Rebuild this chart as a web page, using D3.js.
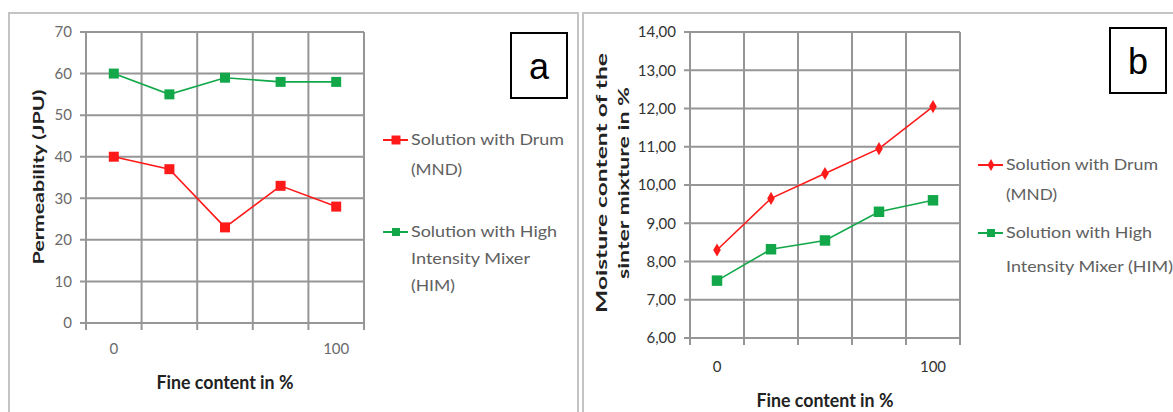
<!DOCTYPE html>
<html>
<head>
<meta charset="utf-8">
<script src="https://cdn.jsdelivr.net/npm/d3@7"></script>
<style>
  body { margin: 0; background: #fff; }
  svg { display: block; font-family: Lato, "Open Sans", sans-serif; }
</style>
</head>
<body>
<svg id="chart" width="1173" height="412"></svg>
<script>
// categories (fine content in %), only first and last are labelled
var fineContent = [0, 25, 50, 75, 100];
var xTickLabels = ["0", "", "", "", "100"];

// panel a : permeability (JPU)
var permDrum = [40, 37, 23, 33, 28];
var permHim = [60, 55, 59, 58, 58];
var permTicks = [0, 10, 20, 30, 40, 50, 60, 70];

// panel b : moisture content in %
var moistDrum = [8.3, 9.65, 10.3, 10.95, 12.05];
var moistHim = [7.5, 8.32, 8.55, 9.3, 9.6];
var moistTicks = [6, 7, 8, 9, 10, 11, 12, 13, 14];

var red = "#ff1a1a", green = "#12a84a";
var svg = d3.select("#chart");
var deLocale = d3.formatLocale({decimal: ",", thousands: ".", grouping: [3], currency: ["", " €"]});

// outer frames of the two panels
svg.append("rect").attr("x", 9).attr("y", 13).attr("width", 569).attr("height", 420)
    .attr("fill", "none").attr("stroke", "#c4c4c4").attr("stroke-width", 2);
svg.append("rect").attr("x", 583).attr("y", 13).attr("width", 600).attr("height", 420)
    .attr("fill", "none").attr("stroke", "#c4c4c4").attr("stroke-width", 2);

function drawPanel(p) {
    var g = svg.append("g");
    var x = d3.scaleBand().domain(fineContent).range([p.left, p.right]).padding(0);
    var y = d3.scaleLinear().domain(p.yDomain).range([p.bottom, p.top]);

    // horizontal grid lines (with small outside ticks)
    g.selectAll(".hgrid").data(p.ticks).enter().append("line")
        .attr("x1", p.left - 6).attr("x2", p.right)
        .attr("y1", function (d) { return y(d); })
        .attr("y2", function (d) { return y(d); })
        .attr("stroke", "#969696").attr("stroke-width", 2);

    // vertical grid lines on the category boundaries
    var bounds = d3.range(fineContent.length + 1);
    g.selectAll(".vgrid").data(bounds).enter().append("line")
        .attr("x1", function (i) { return p.left + i * x.bandwidth(); })
        .attr("x2", function (i) { return p.left + i * x.bandwidth(); })
        .attr("y1", p.top).attr("y2", p.bottom + 7)
        .attr("stroke", "#969696").attr("stroke-width", 2);

    // y tick labels
    g.selectAll(".ylab").data(p.ticks).enter().append("text")
        .attr("x", p.left - 14).attr("y", function (d) { return y(d); })
        .attr("dy", "0.35em").attr("text-anchor", "end")
        .attr("font-size", 15).attr("fill", p.tickColor)
        .text(p.tickFormat);

    // x tick labels
    g.selectAll(".xlab").data(fineContent).enter().append("text")
        .attr("x", function (d) { return x(d) + x.bandwidth() / 2; })
        .attr("y", p.bottom + p.xLabelOffset)
        .attr("text-anchor", "middle").attr("font-size", 15).attr("fill", p.tickColor)
        .text(function (d, i) { return xTickLabels[i]; });

    // x axis title
    g.append("text").attr("x", (p.left + p.right) / 2).attr("y", p.xTitleY)
        .attr("text-anchor", "middle").attr("font-size", 18).attr("font-weight", "bold")
        .attr("fill", "#222").attr("textLength", 137).attr("lengthAdjust", "spacingAndGlyphs")
        .text("Fine content in %");

    // y axis title (one or two lines)
    p.yTitle.forEach(function (t) {
        g.append("text")
            .attr("transform", "translate(" + t.x + "," + p.yTitleCenter + ") rotate(-90)")
            .attr("text-anchor", "middle").attr("dy", "0.35em")
            .attr("font-size", 16).attr("font-weight", "bold").attr("fill", "#222")
            .attr("textLength", t.len).attr("lengthAdjust", "spacingAndGlyphs")
            .text(t.text);
    });

    var line = d3.line()
        .x(function (d, i) { return x(fineContent[i]) + x.bandwidth() / 2; })
        .y(function (d) { return y(d); });

    var series = [
        {values: p.drum, color: red, symbol: p.drumSymbol, size: p.drumSize},
        {values: p.him, color: green, symbol: d3.symbolSquare, size: p.himSize}
    ];
    series.forEach(function (s) {
        g.append("path").datum(s.values).attr("d", line)
            .attr("fill", "none").attr("stroke", s.color).attr("stroke-width", 1.6);
        g.selectAll(null).data(s.values).enter().append("path")
            .attr("d", d3.symbol().type(s.symbol).size(s.size))
            .attr("transform", function (d, i) {
                return "translate(" + (x(fineContent[i]) + x.bandwidth() / 2) + "," + y(d) + ")";
            })
            .attr("fill", s.color);
    });

    // legend
    p.legend.forEach(function (item, k) {
        var s = series[k];
        g.append("line").attr("x1", p.legX).attr("x2", p.legX + 25)
            .attr("y1", item.y).attr("y2", item.y)
            .attr("stroke", s.color).attr("stroke-width", 2);
        g.append("path").attr("d", d3.symbol().type(s.symbol).size(k === 0 ? p.drumSize * 0.8 : 64))
            .attr("transform", "translate(" + (p.legX + 13) + "," + item.y + ")")
            .attr("fill", s.color);
        item.lines.forEach(function (ln, j) {
            g.append("text").attr("x", p.legX + 28).attr("y", item.y + j * item.step)
                .attr("dy", "0.35em").attr("font-size", 15).attr("fill", "#606060")
                .attr("textLength", ln[1]).attr("lengthAdjust", "spacingAndGlyphs")
                .text(ln[0]);
        });
    });

    // panel letter box
    g.append("rect").attr("x", p.box[0]).attr("y", p.box[1]).attr("width", 56).attr("height", 65)
        .attr("fill", "#fff").attr("stroke", "#000").attr("stroke-width", 2);
    g.append("text").attr("x", p.box[0] + 28).attr("y", p.box[1] + 33)
        .attr("dy", "0.35em").attr("text-anchor", "middle")
        .attr("font-family", "Liberation Sans, Arial, sans-serif").attr("font-size", 36)
        .text(p.letter);
}

drawPanel({
    left: 86, right: 364, top: 32, bottom: 323,
    yDomain: [0, 70], ticks: permTicks, tickColor: "#6a6a6a",
    tickFormat: d3.format("d"), xLabelOffset: 31, xTitleY: 389,
    yTitle: [{text: "Permeability (JPU)", x: 38, len: 175}], yTitleCenter: 177,
    drum: permDrum, him: permHim, drumSymbol: d3.symbolSquare, drumSize: 100, himSize: 100,
    legX: 383,
    legend: [
        {y: 140, step: 30, lines: [["Solution with Drum", 153], ["(MND)", 51]]},
        {y: 232, step: 27, lines: [["Solution with High", 146], ["Intensity Mixer", 119], ["(HIM)", 44]]}
    ],
    box: [511, 33], letter: "a"
});

drawPanel({
    left: 690, right: 960, top: 32, bottom: 338,
    yDomain: [6, 14], ticks: moistTicks, tickColor: "#333",
    tickFormat: deLocale.format(".2f"), xLabelOffset: 34, xTitleY: 407,
    yTitle: [{text: "Moisture content of the", x: 601, len: 260},
             {text: "sinter mixture in %", x: 623, len: 192}], yTitleCenter: 183,
    drum: moistDrum, him: moistHim, drumSymbol: d3.symbolDiamond, drumSize: 50, himSize: 110,
    legX: 978,
    legend: [
        {y: 165, step: 30, lines: [["Solution with Drum", 152], ["(MND)", 51]]},
        {y: 233, step: 34, lines: [["Solution with High", 146], ["Intensity Mixer (HIM)", 167]]}
    ],
    box: [1110, 28], letter: "b"
});
</script>
</body>
</html>
